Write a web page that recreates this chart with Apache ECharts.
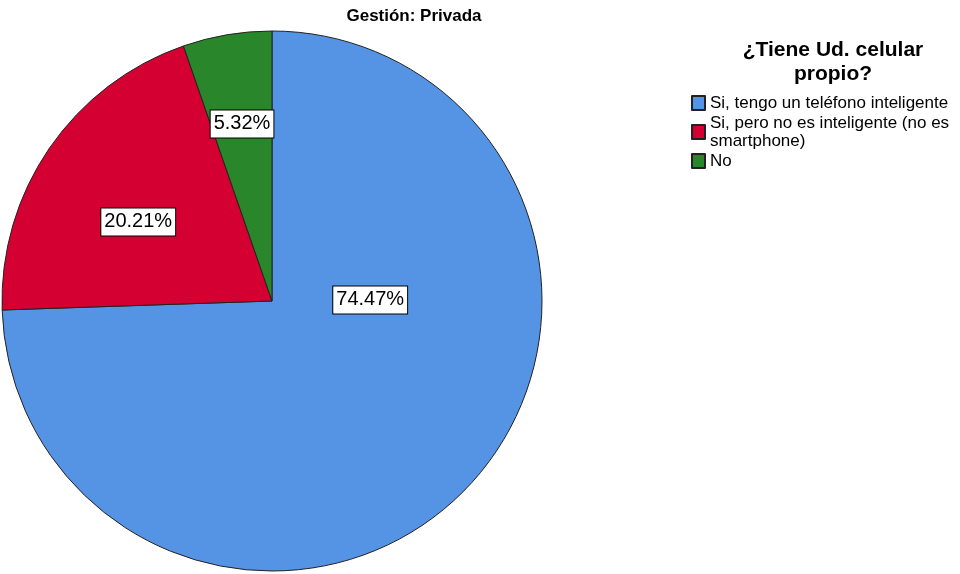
<!DOCTYPE html>
<html><head><meta charset="utf-8">
<script src="https://cdn.jsdelivr.net/npm/echarts@6/dist/echarts.min.js"></script>
<style>html,body{margin:0;padding:0;background:#fff}#c{width:960px;height:574px}</style>
</head><body><div id="c"></div>
<script>
const categories = ['Si, tengo un teléfono inteligente', 'Si, pero no es inteligente (no es smartphone)', 'No'];
const values = [74.47, 20.21, 5.32];
const colors = ['#5594E5', '#D50032', '#2A862A'];
const labelOffsets = [[-1, -97], [-20, -1], [-7, -41]];

const chart = echarts.init(document.getElementById('c'));
chart.setOption({
  animation: false,
  backgroundColor: '#fff',
  title: [
    { text: 'Gestión: Privada', left: 409, top: 3, textAlign: 'center',
      textStyle: { fontFamily: 'Liberation Sans, Arial', fontWeight: 'bold', fontSize: 17, color: '#000' } },
    { text: '¿Tiene Ud. celular\npropio?', left: 828, top: 33, textAlign: 'center',
      textStyle: { fontFamily: 'Liberation Sans, Arial', fontWeight: 'bold', fontSize: 21, lineHeight: 24, color: '#000' } }
  ],
  legend: {
    orient: 'vertical', left: 686, top: 89, itemWidth: 13, itemHeight: 14, itemGap: 2,
    icon: 'rect',
    data: categories,
    formatter: n => n.replace(' smartphone)', '\nsmartphone)'),
    textStyle: { fontFamily: 'Liberation Sans, Arial', fontSize: 17, lineHeight: 18, color: '#000' }
  },
  series: [{
    type: 'pie', center: [272, 301], radius: 270, startAngle: 90, clockwise: true,
    data: categories.map((n, i) => ({
      name: n, value: values[i],
      itemStyle: { color: colors[i] },
      label: { offset: labelOffsets[i] }
    })),
    itemStyle: { borderColor: '#222', borderWidth: 1 },
    label: {
      show: true, position: 'inside',
      formatter: p => p.value.toFixed(2) + '%',
      fontFamily: 'Liberation Sans, Arial', fontSize: 20, color: '#000',
      backgroundColor: '#fff', borderColor: '#000', borderWidth: 1, padding: [4, 3, 3, 3]
    },
    labelLine: { show: false },
    emphasis: { disabled: true }
  }]
});
</script></body></html>
